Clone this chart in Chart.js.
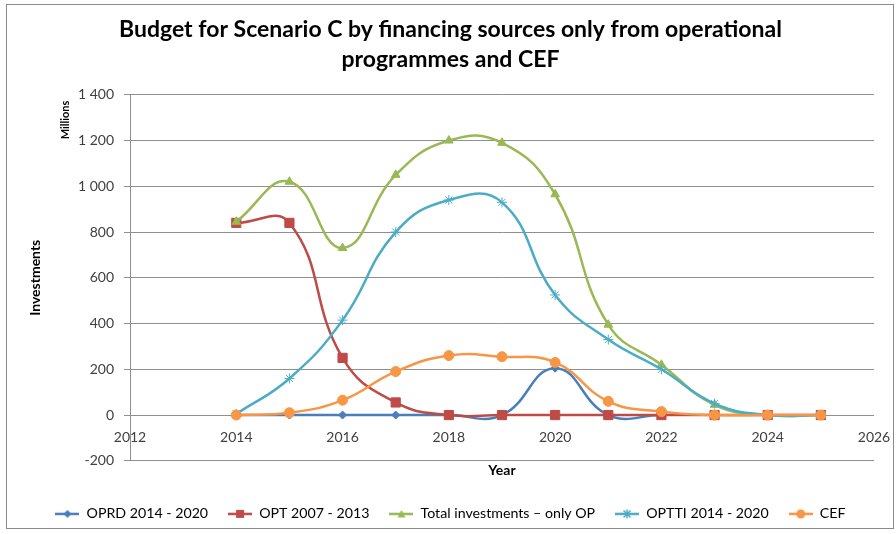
<!DOCTYPE html>
<html lang="en">
  <head>
    <meta charset="UTF-8" />
    <title>Budget for Scenario C</title>
    <script src="https://cdn.jsdelivr.net/npm/chart.js@4.4.0/dist/chart.umd.min.js"></script>
    <style>
      body {
        margin: 0;
        background: #fff;
      }
      .frame {
        position: absolute;
        left: 6px;
        top: 4px;
        width: 886px;
        height: 523px;
        border: 1px solid #8a8a8a;
      }
    </style>
  </head>
  <body>
    <div class="frame">
      <canvas id="chart" width="886" height="523"></canvas>
    </div>

    <script>
      const years = [2014, 2015, 2016, 2017, 2018, 2019, 2020, 2021, 2022, 2023, 2024, 2025];
      const oprd = [0, 0, 0, 0, 0, 0, 205, 0, 0, null, null, null];
      const opt = [840, 840, 250, 55, 0, 0, 0, 0, 0, 0, 0, 0];
      const total = [845, 1020, 730, 1050, 1200, 1190, 965, 395, 220, 45, 0, 0];
      const optti = [5, 160, 415, 800, 940, 930, 525, 330, 200, 50, 0, 0];
      const cef = [0, 10, 65, 190, 260, 255, 230, 60, 15, 0, 0, 0];

      const yTicks = [-200, 0, 200, 400, 600, 800, 1000, 1200, 1400];
      const xTicks = [2012, 2014, 2016, 2018, 2020, 2022, 2024, 2026];

      const FONT = "Lato, 'Open Sans', sans-serif";
      const GRID = "#8f8f8f";
      const TEXT = "#404040";

      const series = [
        { label: "OPRD 2014 - 2020", values: oprd, color: "#4A7EBB", style: "rectRot", radius: 4 },
        { label: "OPT 2007 - 2013", values: opt, color: "#BE4B48", style: "rect", radius: 6.5 },
        { label: "Total investments \u2013 only OP", values: total, color: "#98B954", style: "triangle", radius: 5 },
        { label: "OPTTI 2014 - 2020", values: optti, color: "#4BACC6", style: "star", radius: 5 },
        { label: "CEF", values: cef, color: "#F79646", style: "circle", radius: 5 },
      ];

      function toPoints(values) {
        return years.map((y, i) => ({ x: y, y: values[i] }));
      }

      // small line + marker swatch for the legend
      function legendIcon(s) {
        const c = document.createElement("canvas");
        c.width = 24;
        c.height = 12;
        const g = c.getContext("2d");
        g.strokeStyle = s.color;
        g.fillStyle = s.color;
        g.lineWidth = 2.5;
        g.beginPath();
        g.moveTo(0, 6);
        g.lineTo(24, 6);
        g.stroke();
        g.lineWidth = 1.5;
        g.beginPath();
        if (s.style === "rectRot") {
          g.moveTo(12, 2); g.lineTo(16, 6); g.lineTo(12, 10); g.lineTo(8, 6); g.closePath(); g.fill();
        } else if (s.style === "rect") {
          g.fillRect(8, 2, 8, 8);
        } else if (s.style === "triangle") {
          g.moveTo(12, 2); g.lineTo(16, 9.5); g.lineTo(8, 9.5); g.closePath(); g.fill();
        } else if (s.style === "star") {
          g.moveTo(8.5, 2.5); g.lineTo(15.5, 9.5); g.moveTo(15.5, 2.5); g.lineTo(8.5, 9.5);
          g.moveTo(12, 1.5); g.lineTo(12, 10.5); g.stroke();
        } else {
          g.arc(12, 6, 4.5, 0, Math.PI * 2); g.fill();
        }
        return c;
      }

      const icons = series.map(legendIcon);

      const datasets = series.map((s, i) => ({
        label: s.label,
        data: toPoints(s.values),
        borderColor: s.color,
        backgroundColor: s.color,
        pointBackgroundColor: s.color,
        pointBorderColor: s.color,
        pointStyle: s.style,
        pointRadius: s.radius,
        pointBorderWidth: 1,
        borderWidth: 2.5,
        tension: 0.45,
        fill: false,
        order: series.length - 1 - i, // later series drawn on top, like Excel
      }));

      const millionsLabel = {
        id: "millionsLabel",
        afterDraw(chart) {
          const ctx = chart.ctx;
          ctx.save();
          ctx.translate(58, 115);
          ctx.rotate(-Math.PI / 2);
          ctx.font = "bold 11px " + FONT;
          ctx.fillStyle = "#000";
          ctx.textAlign = "center";
          ctx.textBaseline = "middle";
          ctx.fillText("Millions", 0, 0);
          ctx.restore();
        },
      };

      new Chart(document.getElementById("chart"), {
        type: "line",
        data: { datasets },
        plugins: [millionsLabel],
        options: {
          responsive: false,
          animation: false,
          layout: { padding: { left: 20, right: 19, top: 10, bottom: -3 } },
          plugins: {
            tooltip: { enabled: false },
            title: {
              display: true,
              text: [
                "Budget for Scenario C by financing sources only from operational",
                "programmes and CEF",
              ],
              color: "#000",
              font: { family: FONT, size: 23, weight: "bold", lineHeight: 1.3 },
              padding: { top: 0, bottom: 20 },
            },
            legend: {
              position: "bottom",
              labels: {
                usePointStyle: true,
                pointStyleWidth: 24,
                padding: 20,
                color: "#000",
                font: { family: FONT, size: 14.2 },
                sort: (a, b) => a.datasetIndex - b.datasetIndex,
                generateLabels(chart) {
                  const items = Chart.defaults.plugins.legend.labels.generateLabels(chart);
                  items.forEach((it) => {
                    it.pointStyle = icons[it.datasetIndex];
                  });
                  return items;
                },
              },
            },
          },
          scales: {
            x: {
              type: "linear",
              position: { y: 0 },
              min: 2012,
              max: 2026,
              afterBuildTicks: (scale) => {
                scale.ticks = xTicks.map((v) => ({ value: v }));
              },
              afterFit: (scale) => {
                // end labels may hang past the plot edges, as in Excel
                scale.paddingLeft = 0;
                scale.paddingRight = 0;
              },
              grid: { display: false, drawTicks: false },
              border: { display: false },
              ticks: {
                color: TEXT,
                padding: 14,
                maxRotation: 0,
                font: { family: FONT, size: 14 },
                callback: (v) => String(v),
              },
            },
            x2: {
              type: "linear",
              position: "bottom",
              afterFit: (scale) => {
                scale.height = 26;
              },
              grid: { display: false, drawTicks: false },
              border: { display: false },
              ticks: { display: false },
              title: {
                display: true,
                text: "Year",
                color: "#000",
                padding: { top: 0, bottom: 7.6 },
                font: { family: FONT, size: 14, weight: "bold" },
              },
            },
            y: {
              min: -200,
              max: 1400,
              afterFit: (scale) => {
                scale.width = 103;
              },
              afterBuildTicks: (scale) => {
                scale.ticks = yTicks.map((v) => ({ value: v }));
              },
              grid: { color: GRID, lineWidth: 1, tickLength: 6 },
              border: { color: GRID, width: 1 },
              ticks: {
                color: TEXT,
                padding: 10,
                font: { family: FONT, size: 14 },
                callback: (v) => String(v).replace(/\B(?=(\d{3})+(?!\d))/g, " "),
              },
              title: {
                display: true,
                text: "Investments",
                color: "#000",
                padding: { top: 0, bottom: 0 },
                font: { family: FONT, size: 14, weight: "bold" },
              },
            },
          },
        },
      });
    </script>
  </body>
</html>
